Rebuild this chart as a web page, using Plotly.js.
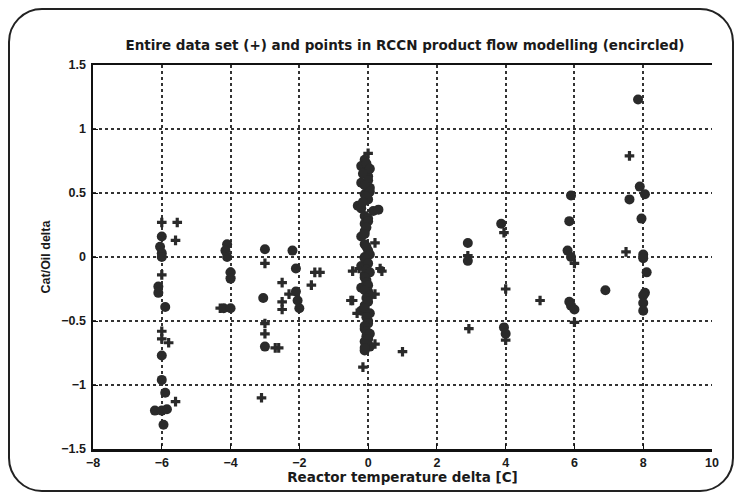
<!DOCTYPE html>
<html><head><meta charset="utf-8">
<script src="https://cdn.plot.ly/plotly-3.0.1.min.js"></script>
<style>
html,body{margin:0;padding:0;background:#fff;}
#wrap{position:relative;width:739px;height:498px;}
#chart{width:739px;height:498px;}
#frame{position:absolute;left:8px;top:8px;width:722px;height:480px;border:2.5px solid #222;border-radius:34px;pointer-events:none;}
</style></head>
<body><div id="wrap"><div id="chart"></div><div id="frame"></div></div>
<script>
// Entire data set (+)
const plusX = [-6, -5.55, -5.6, -6, -6, -6, -5.8, -5.6,
  -4, -4, -4.3, -3, -3, -3, -2.7, -3.1, -2.5, -2.5, -2.3, -1.55, -1.65, -2.6, -2.5,
  0, 0.2, -0.26, 0.35, -1.4, 0.2, -0.45, -0.32, 0.2, 1.0, -0.15, -0.45, 0.4, -0.5,
  2.9, 3.95, 4.0, 5.0, 2.93, 4.0, 6.0, 7.6, 7.5, 8.0, 6.0];
const plusY = [0.27, 0.27, 0.13, -0.14, -0.58, -0.64, -0.67, -1.13,
  -0.12, -0.16, -0.40, -0.05, -0.52, -0.60, -0.71, -1.10, -0.20, -0.41, -0.29, -0.12, -0.22, -0.71, -0.35,
  0.81, 0.11, -0.09, -0.09, -0.12, -0.29, -0.34, -0.44, -0.68, -0.74, -0.86, -0.11, -0.11, -0.34,
  0.01, 0.19, -0.25, -0.34, -0.56, -0.65, -0.05, 0.79, 0.04, 0.0, -0.51];
// Points in RCCN product flow modelling (encircled)
const circX = [-6, -6.05, -6, -6, -6.1, -6.1, -5.9, -6, -6, -5.9, -6.2, -6, -5.85, -5.95,
  -4.1, -4.15, -4.1, -4.0, -4.0, -4.2, -4.0,
  -3, -3.05, -3,
  -2.2, -2.1, -2.1, -2.05, -2.0,
  -0.1, -0.2, -0.1, 0, -0.2, 0.05, -0.1, 0, -0.3, -0.2, 0.15, 0.3, -0.1, -0.1, -0.1, -0.2,
  -0.1, 0, -0.1, -0.05, -0.2, -0.1, -0.05, -0.2, 0, -0.1, -0.2, 0, -0.1, -0.05, -0.1, 0.05, -0.1,
  -0.05, 0.05, -0.1, 0.0, -0.05, 0.05, -0.1, -0.05, 0.0, -0.1, 0.05, -0.05, 0.0, -0.1, 0.05, -0.05, 0.0, -0.1, -0.05, 0.05, 0.0, -0.05, -0.1,
  -0.05, 0.05, -0.15, 0.0, -0.1, 0.05, -0.05, -0.15, 0.0, 0.0, -0.05, -0.1,
  2.9, 2.9, 3.87, 3.95, 4.0,
  5.9, 5.85, 5.8, 5.9, 6.9, 5.85, 5.9, 6.0,
  7.85, 7.9, 8.05, 7.6, 7.95, 8.0, 8.0, 8.1, 8.05, 8.0, 8.0, 8.0];
const circY = [0.16, 0.08, 0.03, 0.0, -0.23, -0.28, -0.39, -0.77, -0.96, -1.06, -1.2, -1.2, -1.19, -1.31,
  0.1, 0.05, 0.0, -0.12, -0.17, -0.40, -0.40,
  0.06, -0.32, -0.70,
  0.05, -0.09, -0.27, -0.34, -0.40,
  0.76, 0.71, 0.67, 0.63, 0.58, 0.54, 0.49, 0.45, 0.40, 0.38, 0.36, 0.37, 0.32, 0.26, 0.20, 0.16,
  0.10, 0.05, 0.0, -0.03, -0.07, -0.14, -0.18, -0.24, -0.27, -0.38, -0.42, -0.5, -0.56, -0.62, -0.66, -0.70, -0.73,
  0.08, 0.02, -0.01, -0.05, -0.10, -0.12, -0.16, -0.20, -0.22, -0.26, -0.30, -0.32, -0.35, -0.40, -0.44, -0.47, -0.52, -0.54, -0.58, -0.60, -0.64, -0.68, -0.71,
  0.73, 0.69, 0.65, 0.60, 0.56, 0.51, 0.47, 0.43, 0.30, 0.28, 0.23, 0.18,
  0.11, -0.03, 0.26, -0.55, -0.60,
  0.48, 0.28, 0.05, 0.0, -0.26, -0.35, -0.38, -0.41,
  1.23, 0.55, 0.49, 0.45, 0.30, 0.02, -0.01, -0.12, -0.28, -0.30, -0.36, -0.42];

const xTicks = [-8, -6, -4, -2, 0, 2, 4, 6, 8, 10];
const yTicks = [-1.5, -1, -0.5, 0, 0.5, 1, 1.5];

const ink = '#2a2a2a';
const bigFnt = {family: 'DejaVu Sans, sans-serif', size: 13.5, color: '#1a1a1a', weight: 'bold'};
const tickFnt = {family: 'Liberation Sans, Arial, sans-serif', size: 12.5, color: '#1a1a1a', weight: 'bold'};
const yFnt = {family: 'Liberation Sans, Arial, sans-serif', size: 12.5, color: '#1a1a1a', weight: 'bold'};

const traces = [
  {x: plusX, y: plusY, mode: 'markers', type: 'scatter', name: 'Entire data set (+)',
   marker: {symbol: 'cross', size: 8, color: ink}},
  {x: circX, y: circY, mode: 'markers', type: 'scatter', name: 'Encircled',
   marker: {symbol: 'circle', size: 10, color: ink}}
];

const axBase = {
  showgrid: true, gridcolor: '#333', griddash: 'dot', gridwidth: 2,
  zeroline: false, showline: true, linecolor: '#111', linewidth: 2.5,
  ticks: 'inside', ticklen: 5, tickcolor: '#111', tickfont: tickFnt
};

const layout = {
  width: 739, height: 498,
  margin: {l: 93, r: 27, t: 65, b: 49},
  paper_bgcolor: '#fff', plot_bgcolor: '#fff',
  showlegend: false,
  title: {text: 'Entire data set (+) and points in RCCN product flow modelling (encircled)',
    font: bigFnt, x: 0.548, xref: 'container', xanchor: 'center', y: 1 - 45/498, yref: 'container', yanchor: 'middle'},
  xaxis: Object.assign({}, axBase, {range: [-8, 10], tickvals: xTicks, ticktext: xTicks.map(v => v < 0 ? '\u2212' + Math.abs(v) : String(v)),
    mirror: true, title: {text: 'Reactor temperature delta [C]', font: bigFnt, standoff: 0}}),
  yaxis: Object.assign({}, axBase, {range: [-1.5, 1.5], tickvals: yTicks, ticktext: yTicks.map(v => v < 0 ? '\u2212' + Math.abs(v) : String(v)),
    ticklabelstandoff: 2, title: {text: 'Cat/Oil delta', font: yFnt, standoff: 8}})
};

Plotly.newPlot('chart', traces, layout, {displayModeBar: false, staticPlot: true});
</script></body></html>
